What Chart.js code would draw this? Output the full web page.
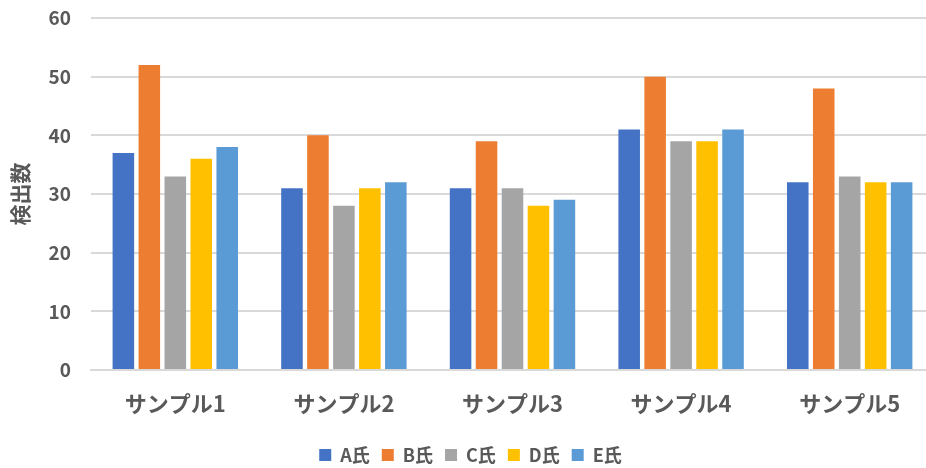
<!DOCTYPE html>
<html>
<head>
<meta charset="utf-8">
<script src="https://cdn.jsdelivr.net/npm/chart.js@4/dist/chart.umd.min.js"></script>
<style>
  html, body { margin: 0; padding: 0; background: #ffffff; overflow: hidden; }
  /* the original plot area runs a few px past the right edge of the image */
  #wrap { width: 926px; height: 468px; overflow: hidden; }
</style>
</head>
<body>
<div id="wrap"><canvas id="chart" width="934" height="468"></canvas></div>
<script>
const categories = ['サンプル1', 'サンプル2', 'サンプル3', 'サンプル4', 'サンプル5'];
const seriesNames = ['A氏', 'B氏', 'C氏', 'D氏', 'E氏'];
const seriesA = [37, 31, 31, 41, 32];
const seriesB = [52, 40, 39, 50, 48];
const seriesC = [33, 28, 31, 39, 33];
const seriesD = [36, 31, 28, 39, 32];
const seriesE = [38, 32, 29, 41, 32];
const colors = ['#4472C4', '#ED7D31', '#A5A5A5', '#FFC000', '#5B9BD5'];

const allSeries = [seriesA, seriesB, seriesC, seriesD, seriesE];
const family = "'Noto Sans CJK JP', 'Noto Sans', sans-serif";
const textColor = '#595959';

new Chart(document.getElementById('chart'), {
    type: 'bar',
    data: {
        labels: categories,
        datasets: allSeries.map((vals, i) => ({
            label: seriesNames[i],
            data: vals,
            backgroundColor: colors[i],
            borderWidth: 0,
            categoryPercentage: 0.77,
            barPercentage: 0.83,
        })),
    },
    options: {
        responsive: false,
        animation: false,
        layout: {
            padding: { top: 18, right: 0, bottom: -6, left: 7 },
        },
        scales: {
            x: {
                grid: { display: false, drawTicks: false },
                border: { display: true, color: '#D9D9D9', width: 2 },
                ticks: { color: textColor, font: { family: family, size: 22, weight: 'bold' }, padding: 20 },
                // fixed height, and no extra side padding from the labels
                afterFit: (scale) => {
                    scale.height = 64;
                    scale.paddingLeft = 0;
                    scale.paddingRight = 0;
                },
            },
            y: {
                min: 0,
                max: 60,
                ticks: { stepSize: 10, color: textColor, font: { family: family, size: 19, weight: 'bold' }, padding: 20 },
                grid: { color: '#D9D9D9', lineWidth: 2, drawTicks: false },
                border: { display: false },
                title: {
                    display: true,
                    text: '検出数',
                    color: textColor,
                    font: { family: family, size: 21, weight: 'bold' },
                    padding: { top: 0, bottom: 10 },
                },
                afterFit: (scale) => {
                    scale.width = 84;
                    scale.paddingTop = 0;
                    scale.paddingBottom = 0;
                },
            },
        },
        plugins: {
            legend: {
                position: 'bottom',
                labels: {
                    color: textColor,
                    font: { family: family, size: 18, weight: 'bold' },
                    boxWidth: 12,
                    boxHeight: 12,
                    padding: 12,
                },
            },
            tooltip: { enabled: false },
        },
    },
});
</script>
</body>
</html>
